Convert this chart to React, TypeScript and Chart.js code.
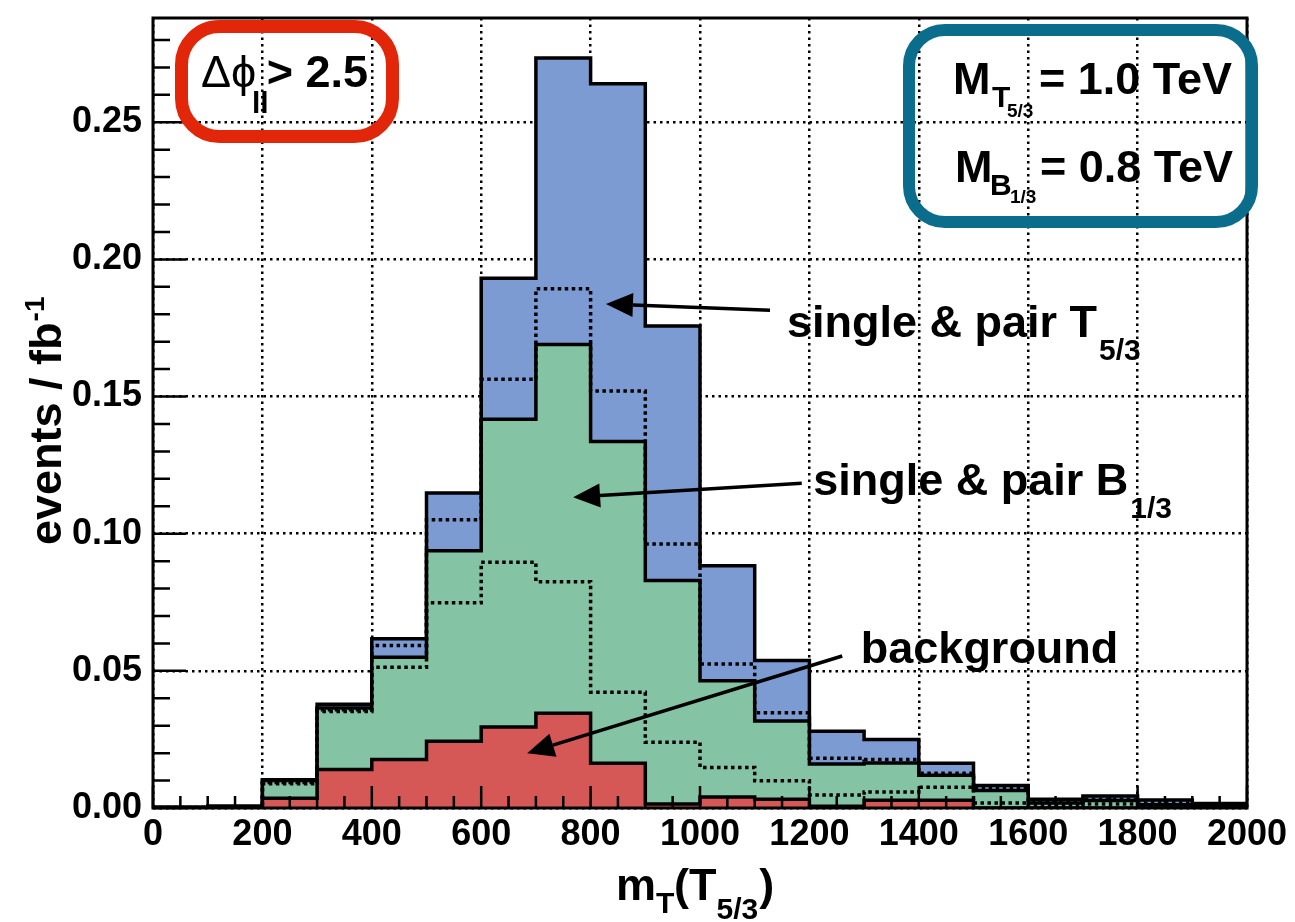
import React, { useEffect, useRef } from "react";
import { Chart, registerables } from "chart.js";

Chart.register(...registerables);

// ---------------- data ----------------
const BIN_EDGES = [0, 100, 200, 300, 400, 500, 600, 700, 800, 900, 1000, 1100, 1200, 1300, 1400, 1500, 1600, 1700, 1800, 1900];
const BIN_WIDTH = 100;

// stacked tops: background, background + B1/3, background + B1/3 + T5/3
const BACKGROUND = [0, 0, 0.0036, 0.014, 0.0177, 0.0243, 0.0295, 0.0345, 0.0163, 0.0015, 0.004, 0.0032, 0.0006, 0.0028, 0.0028, 0, 0, 0, 0, 0];
const BKG_PLUS_B = [0.0003, 0.0006, 0.01, 0.0365, 0.055, 0.0938, 0.1417, 0.169, 0.1336, 0.0829, 0.0464, 0.0317, 0.016, 0.0164, 0.0119, 0.0064, 0.0018, 0.0027, 0.0012, 0.0008];
const TOTAL = [0.0003, 0.0006, 0.0103, 0.0378, 0.0617, 0.1148, 0.1931, 0.2734, 0.264, 0.1757, 0.0883, 0.0538, 0.028, 0.025, 0.0163, 0.0082, 0.0032, 0.0044, 0.0029, 0.0016];
// dotted (unfilled) histograms
const DOTTED_UPPER = [0.0002, 0.0004, 0.0093, 0.0358, 0.0592, 0.1051, 0.1563, 0.1893, 0.152, 0.0962, 0.0525, 0.0347, 0.0181, 0.0177, 0.0127, 0.007, 0.0022, 0.0032, 0.0018, 0.001];
const DOTTED_LOWER = [0.0001, 0.0002, 0.0088, 0.0352, 0.0513, 0.0748, 0.0896, 0.0825, 0.0422, 0.024, 0.0148, 0.0099, 0.0047, 0.0058, 0.0076, 0.0018, 0.0008, 0.0015, 0.0008, 0.0005];

const X_TICKS = [0, 200, 400, 600, 800, 1000, 1200, 1400, 1600, 1800, 2000];
const Y_TICKS = [0, 0.05, 0.1, 0.15, 0.2, 0.25];
const X_MIN = 0;
const X_MAX = 2000;
const Y_MIN = 0;
const Y_MAX = 0.288;

// ---------------- styles ----------------
const FONT = '"Liberation Sans", Arial, Helvetica, sans-serif';
const BLUE = "#7b9bd2";
const GREEN = "#84c3a4";
const RED = "#d55856";
const BOX_RED = "#e2260a";
const BOX_TEAL = "#0b6d8c";

function stepPoints(vals: number[]) {
  const last = vals.length - 1;
  const pts: { x: number; y: number }[] = [{ x: BIN_EDGES[0], y: 0 }];
  vals.forEach((v, i) => pts.push({ x: BIN_EDGES[i], y: v }));
  pts.push({ x: BIN_EDGES[last] + BIN_WIDTH, y: vals[last] });
  pts.push({ x: BIN_EDGES[last] + BIN_WIDTH, y: 0 });
  return pts;
}

function txt(ctx: CanvasRenderingContext2D, s: string, x: number, y: number, size: number, bold = true, align: CanvasTextAlign = "left") {
  ctx.font = `${bold ? "bold " : ""}${size}px ${FONT}`;
  ctx.textAlign = align;
  ctx.textBaseline = "alphabetic";
  ctx.fillText(s, x, y);
  return ctx.measureText(s).width;
}

function arrow(ctx: CanvasRenderingContext2D, x1: number, y1: number, x2: number, y2: number) {
  const ang = Math.atan2(y2 - y1, x2 - x1);
  const len = 27;
  const hw = 12;
  const bx = x2 - len * Math.cos(ang);
  const by = y2 - len * Math.sin(ang);
  ctx.beginPath();
  ctx.moveTo(x1, y1);
  ctx.lineTo(bx, by);
  ctx.lineWidth = 3.5;
  ctx.strokeStyle = "#000";
  ctx.stroke();
  ctx.beginPath();
  ctx.moveTo(x2, y2);
  ctx.lineTo(bx - hw * Math.sin(ang), by + hw * Math.cos(ang));
  ctx.lineTo(bx + hw * Math.sin(ang), by - hw * Math.cos(ang));
  ctx.closePath();
  ctx.fillStyle = "#000";
  ctx.fill();
}

const frameTicksPlugin = {
  id: "frameTicks",
  afterDatasetsDraw(chart: any) {
    const ctx: CanvasRenderingContext2D = chart.ctx;
    const xs = chart.scales.x;
    const ys = chart.scales.y;
    const { left, right, top, bottom } = chart.chartArea;
    ctx.save();
    ctx.strokeStyle = "#000";
    ctx.lineWidth = 2.5;
    ctx.beginPath();
    for (let i = 0; i <= 28; i++) {
      const py = ys.getPixelForValue(i * 0.01);
      const len = i % 5 === 0 ? 33 : 17;
      ctx.moveTo(left, py);
      ctx.lineTo(left + len, py);
    }
    for (let i = 0; i <= 40; i++) {
      const px = xs.getPixelForValue(i * 50);
      const len = i % 4 === 0 ? 22 : 12;
      ctx.moveTo(px, bottom);
      ctx.lineTo(px, bottom - len);
    }
    ctx.stroke();
    ctx.lineWidth = 3;
    ctx.strokeRect(left, top, right - left, bottom - top);
    ctx.restore();
  },
  afterDraw(chart: any) {
    const ctx: CanvasRenderingContext2D = chart.ctx;
    const xs = chart.scales.x;
    const ys = chart.scales.y;
    const X = (v: number) => xs.getPixelForValue(v);
    const Y = (v: number) => ys.getPixelForValue(v);
    ctx.save();
    ctx.fillStyle = "#000";

    // arrows
    arrow(ctx, X(1128), Y(0.1815), X(828), Y(0.1837));
    arrow(ctx, X(1186), Y(0.1184), X(768), Y(0.1133));
    arrow(ctx, X(1260), Y(0.0554), X(684), Y(0.02));

    // annotation labels
    ctx.fillStyle = "#000";
    let w = txt(ctx, "single & pair T", X(1159), Y(0.1716), 45);
    txt(ctx, "5/3", X(1159) + w + 2, Y(0.1716) + 23, 30);
    w = txt(ctx, "single & pair B", X(1207), Y(0.1141), 45);
    txt(ctx, "1/3", X(1207) + w + 2, Y(0.1141) + 23, 30);
    txt(ctx, "background", X(1294), Y(0.0528), 45);

    // red box
    ctx.lineWidth = 13;
    ctx.strokeStyle = BOX_RED;
    ctx.beginPath();
    (ctx as any).roundRect(181.5, 26.5, 211, 110, 38);
    ctx.stroke();
    ctx.fillStyle = "#000";
    txt(ctx, "\u0394\u03D5", 201, 87, 45, false);
    txt(ctx, "ll", 252, 113, 30);
    txt(ctx, "> 2.5", 368, 87, 45, true, "right");

    // teal box
    ctx.lineWidth = 12;
    ctx.strokeStyle = BOX_TEAL;
    ctx.beginPath();
    (ctx as any).roundRect(909, 30, 343, 192, 36);
    ctx.stroke();
    ctx.fillStyle = "#000";
    txt(ctx, "M", 953, 94, 45);
    txt(ctx, "T", 992, 107, 30);
    txt(ctx, "5/3", 1007, 117, 19);
    txt(ctx, "= 1.0 TeV", 1232, 94, 45, true, "right");
    txt(ctx, "M", 955, 182, 45);
    txt(ctx, "B", 990, 195, 30);
    txt(ctx, "1/3", 1010, 203, 19);
    txt(ctx, "= 0.8 TeV", 1233, 182, 45, true, "right");

    // axis titles
    ctx.save();
    ctx.translate(61, 545);
    ctx.rotate(-Math.PI / 2);
    w = txt(ctx, "events / fb", 0, 0, 45);
    txt(ctx, "-1", w + 1, -17, 28);
    ctx.restore();

    let cx = 616;
    cx += txt(ctx, "m", cx, 900, 45);
    txt(ctx, "T", cx, 913, 30);
    cx += 18;
    cx += txt(ctx, "(", cx, 900, 45);
    cx += txt(ctx, "T", cx, 900, 45);
    cx += txt(ctx, "5/3", cx, 919, 30);
    txt(ctx, ")", cx + 1, 900, 45);

    ctx.restore();
  },
};

export default function App() {
  const canvasRef = useRef<HTMLCanvasElement | null>(null);

  useEffect(() => {
    document.body.style.margin = "0";
    const canvas = canvasRef.current;
    if (!canvas) return;

    const filled = (label: string, vals: number[], color: string, order: number) => ({
      label,
      data: stepPoints(vals),
      stepped: "before" as const,
      fill: "origin",
      backgroundColor: color,
      borderColor: "#000",
      borderWidth: 3.5,
      borderJoinStyle: "miter" as const,
      pointRadius: 0,
      order,
    });
    const dotted = (label: string, vals: number[], order: number) => ({
      label,
      data: stepPoints(vals),
      stepped: "before" as const,
      fill: false,
      borderColor: "#000",
      borderWidth: 3.5,
      borderDash: [3.5, 3.5],
      pointRadius: 0,
      order,
    });

    const chart = new Chart(canvas, {
      type: "line",
      data: {
        datasets: [
          filled("single & pair T5/3", TOTAL, BLUE, 5),
          filled("single & pair B1/3", BKG_PLUS_B, GREEN, 4),
          filled("background", BACKGROUND, RED, 3),
          dotted("upper dotted", DOTTED_UPPER, 2),
          dotted("lower dotted", DOTTED_LOWER, 1),
        ] as any,
      },
      options: {
        responsive: false,
        animation: false,
        layout: { padding: { left: 0, right: 48, top: 18, bottom: 0 } },
        plugins: { legend: { display: false }, tooltip: { enabled: false } },
        scales: {
          x: {
            type: "linear",
            min: X_MIN,
            max: X_MAX,
            afterBuildTicks: (s: any) => {
              s.ticks = X_TICKS.map((v) => ({ value: v }));
            },
            afterFit: (s: any) => {
              s.height = 114;
              s.paddingLeft = 0;
              s.paddingRight = 0;
              s.paddingTop = 0;
              s.paddingBottom = 0;
            },
            grid: {
              color: "#000",
              lineWidth: 2.5,
              drawTicks: false,
            },
            border: { display: false, dash: [2.5, 4] },
            ticks: {
              color: "#000",
              padding: 5,
              maxRotation: 0,
              autoSkip: false,
              font: { family: FONT, size: 36, weight: "bold" },
              callback: (v: any) => String(v),
            },
          },
          y: {
            type: "linear",
            min: Y_MIN,
            max: Y_MAX,
            afterBuildTicks: (s: any) => {
              s.ticks = Y_TICKS.map((v) => ({ value: v }));
            },
            afterFit: (s: any) => {
              s.width = 153;
              s.paddingLeft = 0;
              s.paddingRight = 0;
              s.paddingTop = 0;
              s.paddingBottom = 0;
            },
            grid: {
              color: "#000",
              lineWidth: 2.5,
              drawTicks: false,
            },
            border: { display: false, dash: [2.5, 4] },
            ticks: {
              color: "#000",
              padding: 11,
              autoSkip: false,
              font: { family: FONT, size: 36, weight: "bold" },
              callback: (v: any) => Number(v).toFixed(2),
            },
          },
        },
      },
      plugins: [frameTicksPlugin],
    });

    return () => chart.destroy();
  }, []);

  return (
    <div style={{ position: "relative", width: 1295, height: 922 }}>
      <canvas ref={canvasRef} width={1295} height={922} style={{ display: "block", width: 1295, height: 922 }} />
    </div>
  );
}
